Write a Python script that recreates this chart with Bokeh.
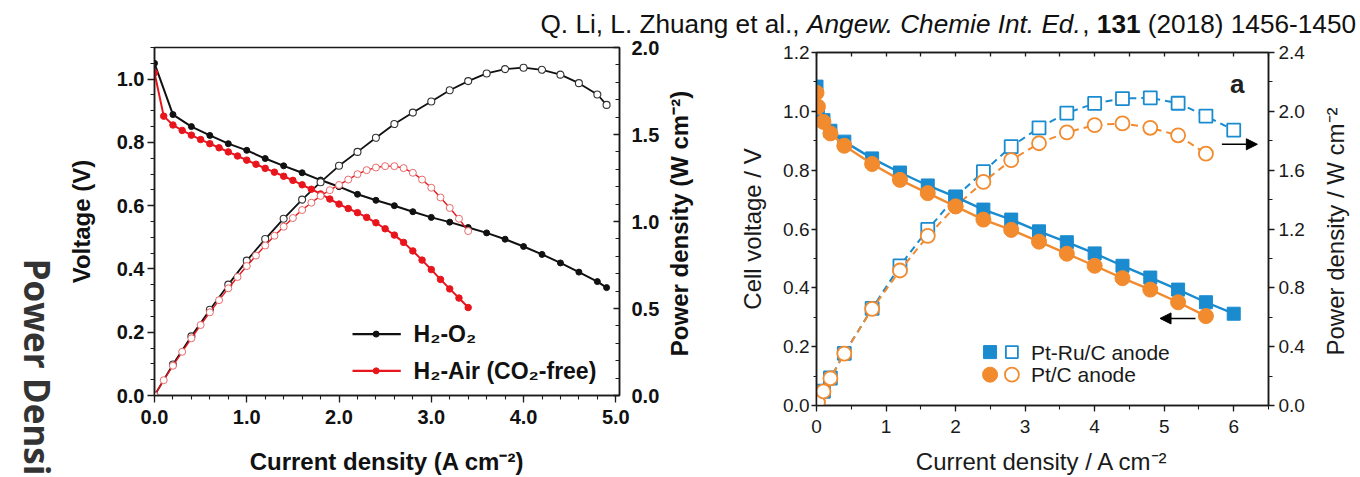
import math
from bokeh.plotting import figure
from bokeh.models import (Range1d, LinearAxis, SingleIntervalTicker, PrintfTickFormatter,
                          Label, Arrow, NormalHead, FixedTicker)
from bokeh.layouts import column, row
from bokeh.embed import file_html
from bokeh.resources import INLINE
from bokeh.core.properties import value

# ---------------- data: left panel ----------------
o2_current = [0.0, 0.2, 0.4, 0.6, 0.8, 1.0, 1.2, 1.4, 1.6, 1.8, 2.0, 2.2, 2.4, 2.6, 2.8,
              3.0, 3.2, 3.4, 3.6, 3.8, 4.0, 4.2, 4.4, 4.6, 4.8, 4.9]
o2_voltage = [1.05, 0.888, 0.85, 0.822, 0.796, 0.775, 0.749, 0.726, 0.704, 0.681, 0.66, 0.636,
              0.617, 0.60, 0.581, 0.563, 0.548, 0.531, 0.514, 0.494, 0.471, 0.446, 0.419,
              0.39, 0.36, 0.341]
o2_power = [0.0, 0.178, 0.34, 0.493, 0.637, 0.775, 0.899, 1.016, 1.126, 1.226, 1.32, 1.40,
            1.481, 1.56, 1.626, 1.69, 1.754, 1.807, 1.851, 1.876, 1.884, 1.872, 1.844,
            1.795, 1.73, 1.67]

air_current = [0.0, 0.1, 0.2, 0.3, 0.4, 0.5, 0.6, 0.7, 0.8, 0.9, 1.0, 1.1, 1.2, 1.3, 1.4,
               1.5, 1.6, 1.7, 1.8, 1.9, 2.0, 2.1, 2.2, 2.3, 2.4, 2.5, 2.6, 2.7, 2.8, 2.9,
               3.0, 3.1, 3.2, 3.3, 3.4]
air_voltage = [1.02, 0.883, 0.855, 0.838, 0.823, 0.809, 0.796, 0.783, 0.77, 0.757, 0.744,
               0.731, 0.718, 0.706, 0.693, 0.68, 0.666, 0.652, 0.637, 0.621, 0.605, 0.591,
               0.578, 0.563, 0.546, 0.527, 0.507, 0.484, 0.457, 0.428, 0.398, 0.367, 0.337,
               0.308, 0.278]
air_power = [0.0, 0.088, 0.171, 0.251, 0.329, 0.405, 0.478, 0.548, 0.616, 0.681, 0.744,
             0.804, 0.862, 0.918, 0.970, 1.020, 1.066, 1.108, 1.147, 1.180, 1.210, 1.241,
             1.272, 1.295, 1.310, 1.318, 1.318, 1.307, 1.280, 1.241, 1.194, 1.138, 1.078,
             1.016, 0.945]

left_legend = ["H\u2082-O\u2082", "H\u2082-Air (CO\u2082-free)"]
left_power_title = "Power density (W cm\u207b\u00b2)"

# ---------------- data: right panel ----------------
ptru_current = [0.0, 0.02, 0.1, 0.2, 0.4, 0.8, 1.2, 1.6, 2.0, 2.4, 2.8, 3.2, 3.6, 4.0, 4.4,
                4.8, 5.2, 5.6, 6.0]
ptru_voltage = [1.084, 1.005, 0.97, 0.934, 0.897, 0.840, 0.792, 0.748, 0.709, 0.666, 0.632,
                0.592, 0.555, 0.517, 0.475, 0.435, 0.394, 0.351, 0.312]
ptru_power = [0.0, 0.02, 0.097, 0.187, 0.355, 0.66, 0.949, 1.197, 1.418, 1.59, 1.76, 1.888,
              1.988, 2.054, 2.087, 2.092, 2.055, 1.968, 1.872]

pt_current = [0.0, 0.02, 0.1, 0.2, 0.4, 0.8, 1.2, 1.6, 2.0, 2.4, 2.8, 3.2, 3.6, 4.0, 4.4,
              4.8, 5.2, 5.6]
pt_voltage = [1.063, 1.016, 0.964, 0.925, 0.883, 0.821, 0.767, 0.722, 0.677, 0.632, 0.597,
              0.557, 0.516, 0.475, 0.433, 0.394, 0.351, 0.304]
pt_power = [0.0, 0.02, 0.096, 0.185, 0.353, 0.657, 0.918, 1.153, 1.354, 1.52, 1.668, 1.783,
            1.857, 1.906, 1.918, 1.888, 1.837, 1.712]

right_legend = ["Pt-Ru/C anode", "Pt/C anode"]
right_power_title = "Power density / W cm\u207b\u00b2"
right_v_ticks = [0.0, 0.2, 0.4, 0.6, 0.8, 1.0, 1.2]
right_v_minor = [0.1, 0.3, 0.5, 0.7, 0.9, 1.1]
right_p_ticks = [0.0, 0.4, 0.8, 1.2, 1.6, 2.0, 2.4]
right_p_minor = [0.2, 0.6, 1.0, 1.4, 1.8, 2.2]
right_top_ticks = [0.0, 0.5, 1.0, 1.5, 2.0, 2.5, 3.0, 3.5, 4.0, 4.5, 5.0, 5.5, 6.0, 6.5]

citation = [("Q. Li, L. Zhuang et al., ", "normal"),
            ("Angew. Chemie Int. Ed.", "italic"),
            (", ", "normal"),
            ("131", "bold"),
            (" (2018) 1456-1450", "normal")]
side_text = "Power Densi"

# ---------------- style / layout ----------------
BLACK = "#111111"
RED = "#e8161c"
BLUE = "#1b8bcf"
ORANGE = "#f28a2e"
FONT = "Liberation Sans"
PAGE_W, PAGE_H = 1360, 477      # the page template has no body margin
TOP_H = 38
ROW_H = PAGE_H - TOP_H


def pix_fig(w, h):
    """Blank figure whose data units are its own pixels (origin bottom-left)."""
    f = figure(width=w, height=h, x_range=Range1d(0, w), y_range=Range1d(0, h),
               x_axis_type=None, y_axis_type=None, toolbar_location=None,
               output_backend="svg", min_border=0, outline_line_color=None,
               frame_align=False, background_fill_color="white",
               border_fill_color="white")
    f.grid.visible = False
    return f


# ================= citation strip =================
pc = pix_fig(PAGE_W, TOP_H)
ARIAL_W = {' ': 278, '(': 333, ')': 333, ',': 278, '-': 333, '.': 278, '/': 278,
           'A': 667, 'C': 722, 'E': 667, 'I': 278, 'L': 556, 'Q': 778, 'Z': 611,
           'a': 556, 'c': 500, 'd': 556, 'e': 556, 'g': 556, 'h': 556, 'i': 222,
           'l': 222, 'm': 833, 'n': 556, 't': 278, 'u': 556, 'w': 722}
CIT_SIZE = 26.2


def tw(s):
    return sum(ARIAL_W.get(ch, 556) for ch in s) / 1000.0 * CIT_SIZE


cx = 540.0
for txt, style in citation:
    lead = len(txt) - len(txt.lstrip(" "))
    pc.text([cx + tw(" " * lead)], [TOP_H - 23.5], text=[txt.strip(" ")],
            text_font=value(FONT), text_font_size=f"{CIT_SIZE}px", text_font_style=style,
            text_color="#111111", text_baseline="alphabetic", text_align="left")
    cx += tw(txt)

# ================= side strip (rotated text) =================
ps = pix_fig(64, ROW_H)
ps.text([37.0], [PAGE_H - 258], text=[side_text], angle=-math.pi / 2,
        text_font=value("Open Sans"), text_font_style="bold", text_font_size="35px",
        text_color="#333333", text_align="left", text_baseline="middle")

# ================= left panel =================
XL_MAX, YL_MAX = 5.04, 1.10
pL = figure(width=598, height=ROW_H, x_range=Range1d(0, XL_MAX), y_range=Range1d(0, YL_MAX),
            toolbar_location=None, output_backend="svg", frame_align=False,
            min_border_left=84, min_border_right=42, min_border_top=9,
            min_border_bottom=ROW_H - 9 - 353)
pL.extra_y_ranges = {"pw": Range1d(0, 2.0)}
pL.grid.visible = False
pL.outline_line_color = "#1a1a1a"
pL.outline_line_width = 1.5
pL.background_fill_color = "white"
pL.border_fill_color = "white"

raxL = LinearAxis(y_range_name="pw")
pL.add_layout(raxL, "right")
xL = pL.below[0]
yL = pL.left[0]

for ax in [xL, yL, raxL]:
    ax.axis_line_color = "#1a1a1a"
    ax.axis_line_width = 1.5
    ax.major_tick_line_color = "#1a1a1a"
    ax.minor_tick_line_color = "#1a1a1a"
    ax.major_tick_line_width = 1.3
    ax.minor_tick_line_width = 1.1
    ax.major_label_text_font = FONT
    ax.major_label_text_font_style = "bold"
    ax.major_label_text_font_size = "20px"
    ax.major_label_text_color = "#111111"
    ax.axis_label_text_font = FONT
    ax.axis_label_text_font_style = "bold"
    ax.axis_label_text_font_size = "24px"
    ax.axis_label_text_color = "#111111"
    ax.formatter = PrintfTickFormatter(format="%.1f")

xL.ticker = SingleIntervalTicker(interval=1.0, num_minor_ticks=5)
xL.major_tick_in, xL.major_tick_out = 0, 7
xL.minor_tick_in, xL.minor_tick_out = 0, 4
xL.major_label_standoff = 7
xL.axis_label = "Current density (A cm\u207b\u00b2)"
xL.axis_label_standoff = 21

yL.ticker = SingleIntervalTicker(interval=0.2, num_minor_ticks=4)
yL.major_tick_in, yL.major_tick_out = 0, 7
yL.minor_tick_in, yL.minor_tick_out = 0, 4
yL.major_label_standoff = 3
yL.axis_label = "Voltage (V)"
yL.axis_label_standoff = 19

raxL.ticker = SingleIntervalTicker(interval=0.5, num_minor_ticks=5)
raxL.major_tick_in, raxL.major_tick_out = 6, 0
raxL.minor_tick_in, raxL.minor_tick_out = 4, 0
raxL.major_label_standoff = 12

# series
pL.line(o2_current, o2_voltage, line_color=BLACK, line_width=2)
pL.scatter(o2_current, o2_voltage, size=6, marker="circle", fill_color=BLACK, line_color=BLACK)
pL.line(o2_current, o2_power, y_range_name="pw", line_color=BLACK, line_width=1.8)
pL.scatter(o2_current, o2_power, y_range_name="pw", size=7, marker="circle",
           fill_color="white", line_color="#333333", line_width=1.1)
pL.line(air_current, air_voltage, line_color=RED, line_width=2)
pL.scatter(air_current, air_voltage, size=6.5, marker="circle", fill_color=RED, line_color=RED)
pL.line(air_current, air_power, y_range_name="pw", line_color=RED, line_width=1.4)
pL.scatter(air_current, air_power, y_range_name="pw", size=7, marker="circle",
           fill_color="white", line_color="#e86a6a", line_width=1.0)


# legend (manual, line with dot + label); positions given in page pixels
def lx(px):
    return (px - 148.0) * XL_MAX / 472.0


def ly(py):
    return (400.0 - py) * YL_MAX / 353.0


for lab, col, py in [(left_legend[0], BLACK, 337.7), (left_legend[1], RED, 375.0)]:
    pL.line([lx(349), lx(398)], [ly(py), ly(py)], line_color=col, line_width=2.2)
    pL.scatter([lx(373)], [ly(py)], size=6, marker="circle", fill_color=col, line_color=col)
    pL.text([lx(411)], [ly(py)], text=[lab], text_font=value(FONT), text_font_style="bold",
            text_font_size="23px", text_color="#111111", text_baseline="middle",
            text_align="left")

# title strip for left power axis (reads bottom to top)
tL = pix_fig(46, ROW_H)
tL.text([16.5], [PAGE_H - 223], text=[left_power_title], angle=math.pi / 2,
        text_font=value(FONT), text_font_style="bold", text_font_size="24px",
        text_color="#111111", text_align="center", text_baseline="middle")

# ================= right panel =================
pR = figure(width=600, height=ROW_H, x_range=Range1d(0, 6.5), y_range=Range1d(0, 1.2),
            toolbar_location=None, output_backend="svg", frame_align=False,
            min_border_left=108, min_border_right=40, min_border_top=14,
            min_border_bottom=ROW_H - 14 - 356)
pR.extra_y_ranges = {"pw": Range1d(0, 2.4)}
pR.grid.visible = False
pR.outline_line_color = "#1a1a1a"
pR.outline_line_width = 1.5
pR.background_fill_color = "white"
pR.border_fill_color = "white"

raxR = LinearAxis(y_range_name="pw")
pR.add_layout(raxR, "right")
taxR = LinearAxis(ticker=FixedTicker(ticks=right_top_ticks))
pR.add_layout(taxR, "above")
xR = pR.below[0]
yR = pR.left[0]

for ax in [xR, yR, raxR, taxR]:
    ax.axis_line_color = "#1a1a1a"
    ax.axis_line_width = 1.5
    ax.major_tick_line_color = "#1a1a1a"
    ax.minor_tick_line_color = "#1a1a1a"
    ax.major_tick_line_width = 1.3
    ax.minor_tick_line_width = 1.1
    ax.major_label_text_font = FONT
    ax.major_label_text_font_size = "19px"
    ax.major_label_text_color = "#1a1a1a"
    ax.axis_label_text_font = FONT
    ax.axis_label_text_font_style = "normal"
    ax.axis_label_text_font_size = "24px"
    ax.axis_label_text_color = "#1a1a1a"

# top axis: inward ticks only, no labels
taxR.major_tick_in, taxR.major_tick_out = 4, 0
taxR.minor_tick_in, taxR.minor_tick_out = 0, 0
taxR.major_label_text_color = None
taxR.major_label_text_font_size = "1px"
taxR.major_label_standoff = 0

xR.ticker = SingleIntervalTicker(interval=1.0, num_minor_ticks=2)
xR.formatter = PrintfTickFormatter(format="%d")
xR.major_tick_in, xR.major_tick_out = 0, 6
xR.minor_tick_in, xR.minor_tick_out = 0, 4
xR.major_label_standoff = 8
xR.axis_label = "Current density / A cm\u207b\u00b2"
xR.axis_label_standoff = 12

yR.ticker = FixedTicker(ticks=right_v_ticks, minor_ticks=right_v_minor)
yR.formatter = PrintfTickFormatter(format="%.1f")
yR.major_tick_in, yR.major_tick_out = 0, 5
yR.minor_tick_in, yR.minor_tick_out = 0, 3
yR.major_label_standoff = 2
yR.axis_label = "Cell voltage / V"
yR.axis_label_standoff = 14

raxR.ticker = FixedTicker(ticks=right_p_ticks, minor_ticks=right_p_minor)
raxR.formatter = PrintfTickFormatter(format="%.1f")
raxR.major_tick_in, raxR.major_tick_out = 0, 6
raxR.minor_tick_in, raxR.minor_tick_out = 0, 4
raxR.major_label_standoff = 4

# power curves (dashed, open markers)
pR.line(ptru_current, ptru_power, y_range_name="pw", line_color=BLUE, line_width=2,
        line_dash="7 5")
pR.scatter(ptru_current, ptru_power, y_range_name="pw", marker="square", size=13,
           fill_color="white", line_color=BLUE, line_width=1.8)
pR.line(pt_current, pt_power, y_range_name="pw", line_color=ORANGE, line_width=2,
        line_dash="7 5")
pR.scatter(pt_current, pt_power, y_range_name="pw", marker="circle", size=14,
           fill_color="white", line_color=ORANGE, line_width=1.8)
# voltage curves (solid, filled markers)
pR.line(ptru_current, ptru_voltage, line_color=BLUE, line_width=2.4)
pR.scatter(ptru_current, ptru_voltage, marker="square", size=13, fill_color=BLUE,
           line_color=BLUE)
pR.line(pt_current, pt_voltage, line_color=ORANGE, line_width=2.4)
pR.scatter(pt_current, pt_voltage, marker="circle", size=15, fill_color=ORANGE,
           line_color=ORANGE)

# arrows indicating axes
pR.add_layout(Arrow(end=NormalHead(size=11, fill_color="black", line_color="black"),
                    x_start=5.83, y_start=1.776, x_end=6.34, y_end=1.776,
                    y_range_name="pw", line_color="black", line_width=1.6))
pR.add_layout(Arrow(end=NormalHead(size=11, fill_color="black", line_color="black"),
                    x_start=5.45, y_start=0.296, x_end=4.94, y_end=0.296,
                    line_color="black", line_width=1.6))

pR.add_layout(Label(x=6.05, y=1.093, text="a", text_font=FONT, text_font_style="bold",
                    text_font_size="26px", text_color="#222222", text_align="center",
                    text_baseline="middle"))

# legend (manual: filled + open marker then label)
for lab, mk, col, yv, sz in [(right_legend[0], "square", BLUE, 0.1815, 13),
                             (right_legend[1], "circle", ORANGE, 0.1048, 15)]:
    pR.scatter([2.496], [yv], marker=mk, size=sz, fill_color=col, line_color=col)
    pR.scatter([2.81], [yv], marker=mk, size=sz - 1, fill_color="white", line_color=col,
               line_width=1.8)
    pR.text([3.083], [yv], text=[lab], text_font=value(FONT), text_font_size="21px",
            text_color="#1a1a1a", text_baseline="middle", text_align="left")

# title strip for right power axis (reads bottom to top)
tR = pix_fig(PAGE_W - 1308, ROW_H)
tR.text([27], [PAGE_H - 231], text=[right_power_title], angle=math.pi / 2,
        text_font=value(FONT), text_font_size="24px", text_color="#1a1a1a",
        text_align="center", text_baseline="middle")

layout = column(pc, row(ps, pL, tL, pR, tR))
open("out.html", "w").write(file_html(layout, INLINE))
